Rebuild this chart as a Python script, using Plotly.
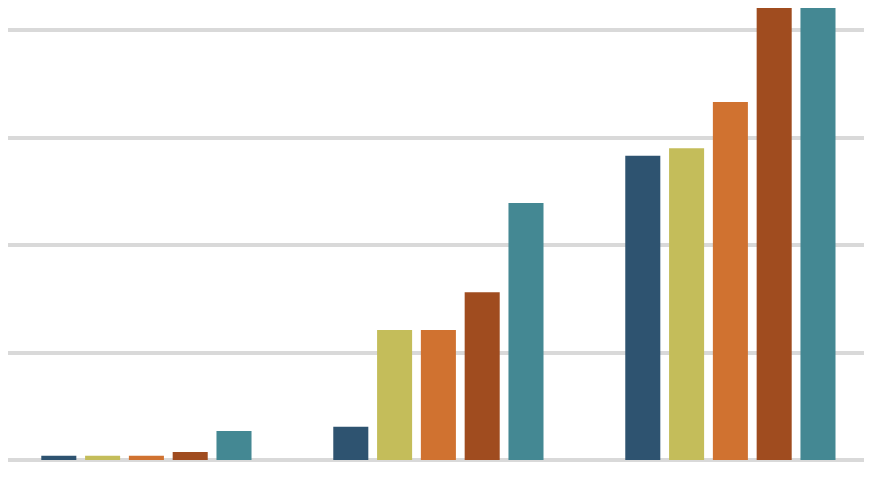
import plotly.graph_objects as go

groups = ['A', 'B', 'C']
series_names = ['S1', 'S2', 'S3', 'S4', 'S5']
s1 = [0.04, 0.31, 2.83]
s2 = [0.04, 1.21, 2.90]
s3 = [0.04, 1.21, 3.33]
s4 = [0.075, 1.56, 4.6]
s5 = [0.27, 2.39, 4.7]
colors = ['#2E5370', '#C4BD5A', '#D07230', '#A04C1F', '#448893']

fig = go.Figure()
for name, vals, c in zip(series_names, [s1, s2, s3, s4, s5], colors):
    fig.add_trace(go.Bar(x=groups, y=vals, name=name, marker_color=c, marker_line_width=0))

# page body adds 8px margin, so the figure is a bit smaller than the window
fig.update_layout(
    width=864, height=469,
    margin=dict(l=0, r=0, t=0, b=17),
    plot_bgcolor='white', paper_bgcolor='white',
    showlegend=False,
    barmode='group', bargap=0.25, bargroupgap=0.2,
)
fig.update_xaxes(range=[-0.474, 2.485], showticklabels=False, showgrid=False, zeroline=False)
fig.update_yaxes(range=[0, 4.205], dtick=1, showticklabels=False,
                 gridcolor='#D9D9D9', gridwidth=4,
                 zeroline=True, zerolinecolor='#D9D9D9', zerolinewidth=4)

fig.write_html("out.html")
